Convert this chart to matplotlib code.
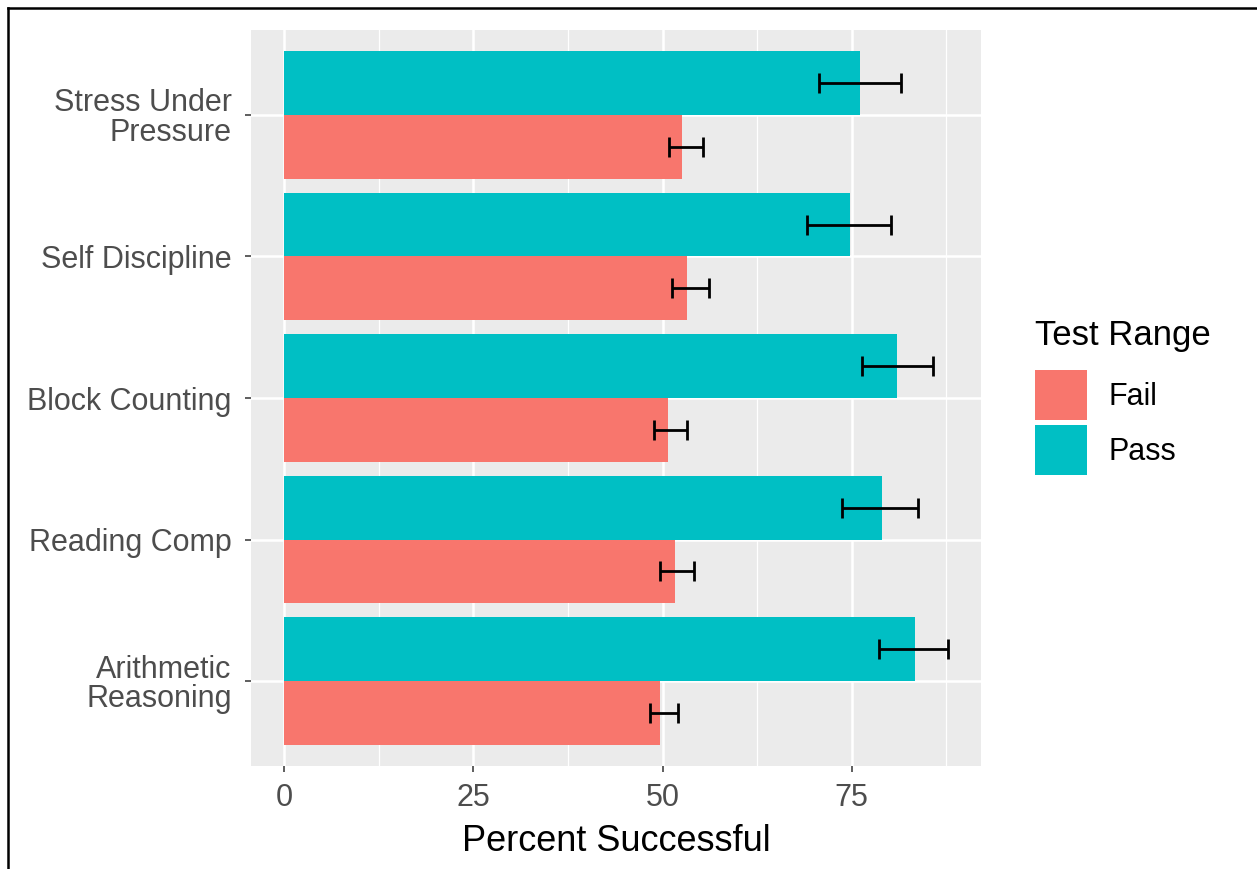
import matplotlib.pyplot as plt
import numpy as np
from matplotlib.patches import Patch
from matplotlib.lines import Line2D

# categories, bottom to top
categories = ["Arithmetic\nReasoning", "Reading Comp", "Block Counting",
              "Self Discipline", "Stress Under\nPressure"]

# mean percent successful and error bar ends
fail_mean = [49.7, 51.6, 50.7, 53.3, 52.6]
fail_lo = [48.3, 49.6, 48.9, 51.2, 50.9]
fail_hi = [52.0, 54.2, 53.2, 56.1, 55.4]

pass_mean = [83.4, 79.0, 81.0, 74.8, 76.1]
pass_lo = [78.6, 73.7, 76.3, 69.1, 70.7]
pass_hi = [87.7, 83.8, 85.8, 80.2, 81.5]

xticks = [0, 25, 50, 75]

fail_color = "#F8766D"
pass_color = "#00BFC4"

plt.rcParams['font.family'] = ['Liberation Sans', 'DejaVu Sans']

fig = plt.figure(figsize=(12.57, 8.69), dpi=100)
ax = fig.add_axes([0.1997, 0.1185, 0.5807, 0.847])

y = np.arange(1, len(categories) + 1)
h = 0.45

ax.barh(y + h / 2, pass_mean, height=h, color=pass_color, zorder=3)
ax.barh(y - h / 2, fail_mean, height=h, color=fail_color, zorder=3)

# error bars
pm, fm = np.array(pass_mean), np.array(fail_mean)
ax.errorbar(pm, y + h / 2, xerr=[pm - np.array(pass_lo), np.array(pass_hi) - pm],
            fmt="none", ecolor="black", elinewidth=2.0, capsize=7.5, capthick=2.0, zorder=4)
ax.errorbar(fm, y - h / 2, xerr=[fm - np.array(fail_lo), np.array(fail_hi) - fm],
            fmt="none", ecolor="black", elinewidth=2.0, capsize=7.5, capthick=2.0, zorder=4)

# ggplot-like scale expansion
xmax = max(pass_hi)
ax.set_xlim(-0.05 * xmax, 1.05 * xmax)
ax.set_ylim(0.4, len(categories) + 0.6)

ax.set_facecolor("#EBEBEB")
for s in ax.spines.values():
    s.set_visible(False)

ax.set_xticks(xticks)
ax.set_xticks([12.5, 37.5, 62.5, 87.5], minor=True)
ax.set_yticks(y)
ax.set_yticklabels(categories, linespacing=0.97)
ax.grid(which="major", color="white", linewidth=1.8, zorder=0)
ax.grid(which="minor", axis="x", color="white", linewidth=0.9, zorder=0)
ax.set_axisbelow(True)

ax.tick_params(axis="both", which="major", colors="#333333", length=4, width=1.1,
               labelsize=22, labelcolor="#4D4D4D")
ax.tick_params(axis="y", pad=10)
ax.tick_params(axis="x", pad=8)
ax.tick_params(which="minor", length=0)

ax.set_xlabel("Percent Successful", fontsize=26, color="black", labelpad=8)

handles = [Patch(facecolor=fail_color, label="Fail"),
           Patch(facecolor=pass_color, label="Pass")]
leg = fig.legend(handles=handles, title="Test Range", loc="upper left",
                 bbox_to_anchor=(1035 / 1257, 1 - 319 / 869), frameon=False,
                 fontsize=22, title_fontsize=25, handlelength=1.7, handleheight=2.15,
                 labelspacing=0.15, handletextpad=0.7, borderpad=0, borderaxespad=0)
leg._legend_box.align = "left"
leg._legend_box.sep = 13

# border frame (top and left)
fig.add_artist(Line2D([8 / 1257, 1], [1 - 8 / 869, 1 - 8 / 869], color="black", lw=1.8))
fig.add_artist(Line2D([8 / 1257, 8 / 1257], [0, 1 - 8 / 869], color="black", lw=1.8))

fig.savefig("out.png", dpi=100)
